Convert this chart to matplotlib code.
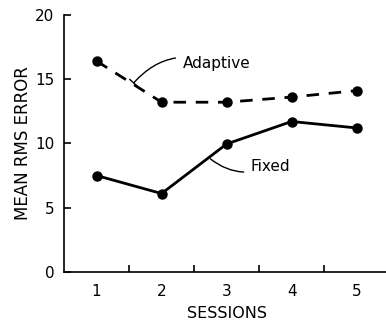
import matplotlib
matplotlib.use("Agg")
import matplotlib.pyplot as plt

sessions = [1, 2, 3, 4, 5]
adaptive = [16.4, 13.2, 13.2, 13.6, 14.1]
fixed = [7.5, 6.1, 9.95, 11.7, 11.2]
y_ticks = [0, 5, 10, 15, 20]
x_labels = ["1", "2", "3", "4", "5"]

plt.rcParams["font.family"] = ["DejaVu Sans"]

fig = plt.figure(figsize=(3.86, 3.24), dpi=100)
ax = fig.add_axes([0.166, 0.1605, 0.842, 0.794])

ax.plot(sessions, adaptive, color="black", lw=2.0, linestyle=(0, (4.5, 3.5)),
        marker="o", ms=6.5, markerfacecolor="black", markeredgecolor="black")
ax.plot(sessions, fixed, color="black", lw=2.0, linestyle="-",
        marker="o", ms=6.5, markerfacecolor="black", markeredgecolor="black")

ax.set_xlim(0.5, 5.5)
ax.set_ylim(0, 20)

for s in ("top", "right"):
    ax.spines[s].set_visible(False)
for s in ("left", "bottom"):
    ax.spines[s].set_linewidth(1.2)

ax.set_yticks(y_ticks)
ax.tick_params(axis="y", direction="in", length=5, width=1.2, pad=7, labelsize=11)

# tick marks sit between sessions; labels sit on each session
ax.set_xticks([1.5, 2.5, 3.5, 4.5])
ax.set_xticklabels([])
ax.tick_params(axis="x", which="major", direction="in", length=5, width=1.2)
ax.set_xticks(sessions, minor=True)
ax.set_xticklabels(x_labels, minor=True)
ax.tick_params(axis="x", which="minor", length=0, pad=9, labelsize=11)

ax.set_xlabel("SESSIONS", fontsize=11.5, labelpad=5)
ax.set_ylabel("MEAN RMS ERROR", fontsize=12, labelpad=2)

ax.annotate("Adaptive", xy=(1.57, 14.7), xytext=(2.32, 16.2),
            fontsize=11, va="center", ha="left",
            arrowprops=dict(arrowstyle="-[, widthB=0.35, lengthB=0.0",
                            connectionstyle="arc3,rad=0.35", color="black", lw=1.0,
                            shrinkA=3, shrinkB=0))
ax.annotate("Fixed", xy=(2.75, 8.8), xytext=(3.37, 8.2),
            fontsize=11, va="center", ha="left",
            arrowprops=dict(arrowstyle="-", connectionstyle="arc3,rad=-0.3",
                            color="black", lw=1.0, shrinkA=3, shrinkB=0))

fig.savefig("out.png", dpi=100)
